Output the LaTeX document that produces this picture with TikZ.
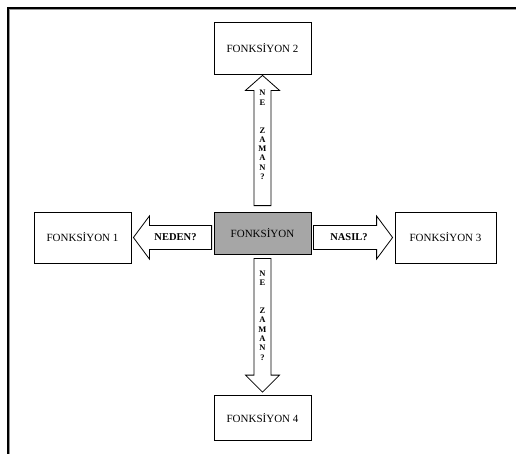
\documentclass[tikz,border=0pt]{standalone}
\usepackage{fontspec}
\setmainfont{Liberation Serif}
\usetikzlibrary{calc}
\definecolor{hubgray}{RGB}{166,166,166}
\definecolor{framegray}{RGB}{150,150,150}
\tikzset{
  fbox/.style={draw, line width=0.8pt, fill=white, minimum width=97pt,
    minimum height=51pt, inner sep=0pt, font=\fontsize{11}{12}\selectfont},
  hub/.style={fbox, fill=hubgray, minimum height=42pt},
  blockarrow/.style={draw, line width=0.8pt, fill=white, line join=miter},
  hlabel/.style={font=\bfseries\fontsize{10.5}{12}\selectfont, inner sep=0pt},
  vlabel/.style={font=\bfseries\fontsize{8.5}{9.3}\selectfont, align=center, inner sep=0pt},
}
\begin{document}
\begin{tikzpicture}[x=1pt,y=-1pt]
\useasboundingbox (0,0) rectangle (516,453);

% page frame (top and left edges)
\draw[line width=2pt, line cap=rect] (8,460) -- (8,8) -- (520,8);
\draw[framegray, line width=1pt] (9.5,460) -- (9.5,9.5) -- (520,9.5);

% boxes
\node[hub] (c) at (262.5,233) {FONKSİYON};
\node[fbox] (f1) at (82.5,237.5) {FONKSİYON 1};
\node[fbox, minimum height=52pt] (f2) at (262.5,48) {FONKSİYON 2};
\node[fbox, minimum width=101pt] (f3) at (445.5,237.5) {FONKSİYON 3};
\node[fbox, minimum height=45pt] (f4) at (262.5,418) {FONKSİYON 4};

% up arrow: hub -> FONKSIYON 2
\coordinate (ub) at ($(c.north)+(0,-6)$);
\coordinate (ut) at ($(f2.south)+(0,1)$);
\coordinate (uh) at ($(ut)+(0,15)$);
\draw[blockarrow] ($(ub)+(-8.5,0)$) -- ($(uh)+(-8.5,0)$) -- ($(uh)+(-17,0)$)
  -- (ut) -- ($(uh)+(17,0)$) -- ($(uh)+(8.5,0)$) -- ($(ub)+(8.5,0)$) -- cycle;

% down arrow: hub -> FONKSIYON 4
\coordinate (db) at ($(c.south)+(0,4)$);
\coordinate (dt) at ($(f4.north)+(0,-3)$);
\coordinate (dh) at ($(dt)+(0,-17)$);
\draw[blockarrow] ($(db)+(-8.5,0)$) -- ($(dh)+(-8.5,0)$) -- ($(dh)+(-17,0)$)
  -- (dt) -- ($(dh)+(17,0)$) -- ($(dh)+(8.5,0)$) -- ($(db)+(8.5,0)$) -- cycle;

% left arrow: hub -> FONKSIYON 1
\coordinate (lb) at ($(c.west |- f1.east)+(-2,0)$);
\coordinate (lt) at ($(f1.east)+(2,0)$);
\coordinate (lh) at ($(lt)+(16,0)$);
\draw[blockarrow] ($(lb)+(0,-12)$) -- ($(lh)+(0,-12)$) -- ($(lh)+(0,-21.5)$)
  -- (lt) -- ($(lh)+(0,21.5)$) -- ($(lh)+(0,12)$) -- ($(lb)+(0,12)$) -- cycle;

% right arrow: hub -> FONKSIYON 3
\coordinate (rb) at ($(c.east |- f3.west)+(2,0)$);
\coordinate (rt) at ($(f3.west)+(-2,0)$);
\coordinate (rh) at ($(rt)+(-16,0)$);
\draw[blockarrow] ($(rb)+(0,-12)$) -- ($(rh)+(0,-12)$) -- ($(rh)+(0,-21.5)$)
  -- (rt) -- ($(rh)+(0,21.5)$) -- ($(rh)+(0,12)$) -- ($(rb)+(0,12)$) -- cycle;

% arrow labels
\node[hlabel] (why) at (175.5,237.5) {NEDEN?};
\node[hlabel] (how) at (349,237.5) {NASIL?};
\node[vlabel] (whenup) at (262.5,135) {N\\E\\[18.6pt]Z\\A\\M\\A\\N\\?};
\node[vlabel] (whendown) at (262.5,315.5) {N\\E\\[18.6pt]Z\\A\\M\\A\\N\\?};
\end{tikzpicture}
\end{document}
